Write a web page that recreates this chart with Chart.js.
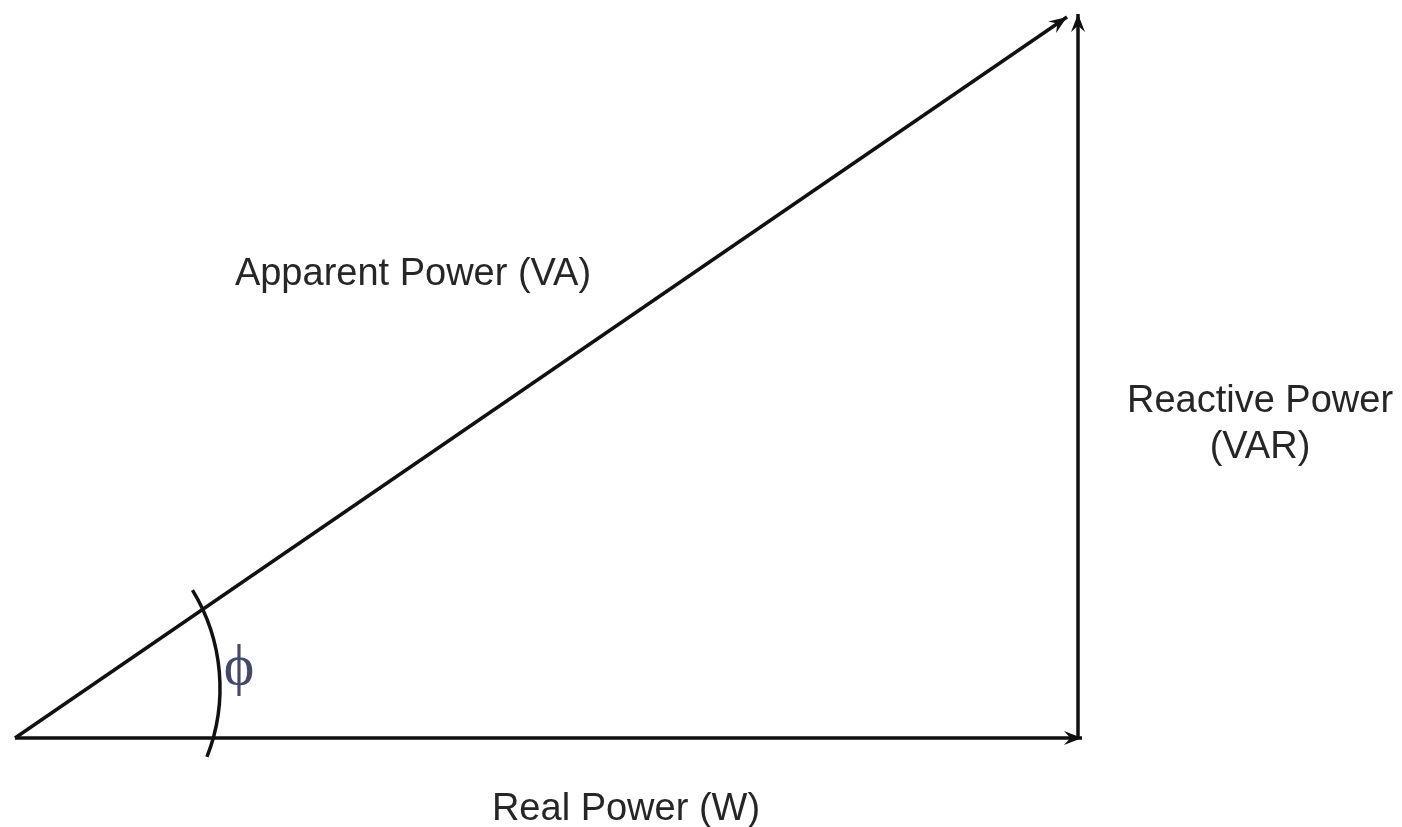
<!DOCTYPE html>
<html>
<head>
<meta charset="utf-8">
<title>Power triangle</title>
<script src="https://cdn.jsdelivr.net/npm/chart.js@4.4.1/dist/chart.umd.min.js"></script>
<style>
    html, body { margin: 0; padding: 0; background: #ffffff; }
    #wrap { width: 1402px; height: 827px; }
</style>
</head>
<body>
<div id="wrap"><canvas id="powerCanvas" width="1402" height="827"></canvas></div>
<script>
// Vectors of the power triangle (units on a 1402 x 827 grid, y going up)
const vectorNames  = ["Real Power (W)", "Reactive Power (VAR)", "Apparent Power (VA)"];
const vectorStartX = [15, 1078, 15];
const vectorStartY = [89, 89, 89];
const vectorEndX   = [1082, 1078, 1067];
const vectorEndY   = [89, 813, 810];

// Angle marker (phi) between real and apparent power
const arcCenter = [32, 139];
const arcRadius = 188;
const arcFromDeg = -21.5;
const arcToDeg = 31.4;

// Text labels: lines and anchor (centre x, baseline y of first line)
const labelLines = [["Apparent Power (VA)"], ["Reactive Power", "(VAR)"], ["Real Power (W)"], ["\u03D5"]];
const labelX = [413, 1260, 626, 239];
const labelY = [542, 415, 7, 143];

const LINE_COLOR = "#111111";

// Стрелки, дуга угла и подписи
const diagramPlugin = {
    id: "diagram",
    afterDatasetsDraw(chart) {
        const ctx = chart.ctx;
        const xs = chart.scales.x;
        const ys = chart.scales.y;

        // arrowheads at the end of every vector
        chart.data.datasets.forEach((ds) => {
            const p0 = ds.data[0], p1 = ds.data[1];
            const x0 = xs.getPixelForValue(p0.x), y0 = ys.getPixelForValue(p0.y);
            const x1 = xs.getPixelForValue(p1.x), y1 = ys.getPixelForValue(p1.y);
            const ang = Math.atan2(y1 - y0, x1 - x0);
            const len = 18, half = 7;
            ctx.save();
            ctx.translate(x1, y1);
            ctx.rotate(ang);
            ctx.beginPath();
            ctx.moveTo(0, 0);
            ctx.lineTo(-len, -half);
            ctx.lineTo(-len * 0.65, 0);
            ctx.lineTo(-len, half);
            ctx.closePath();
            ctx.fillStyle = LINE_COLOR;
            ctx.fill();
            ctx.restore();
        });

        // phi arc
        const cx = xs.getPixelForValue(arcCenter[0]);
        const cy = ys.getPixelForValue(arcCenter[1]);
        const r = xs.getPixelForValue(arcCenter[0] + arcRadius) - cx;
        ctx.save();
        ctx.beginPath();
        ctx.arc(cx, cy, r, -arcToDeg * Math.PI / 180, -arcFromDeg * Math.PI / 180);
        ctx.lineWidth = 3.5;
        ctx.strokeStyle = LINE_COLOR;
        ctx.stroke();
        ctx.restore();

        // labels
        ctx.save();
        ctx.textAlign = "center";
        ctx.textBaseline = "alphabetic";
        labelLines.forEach((lines, i) => {
            const isPhi = lines[0] === "\u03D5";
            ctx.font = isPhi ? "58px 'Liberation Serif', 'DejaVu Serif', serif"
                             : "38px 'Liberation Sans', Arial, sans-serif";
            ctx.fillStyle = isPhi ? "#44496a" : "#262626";
            const x = xs.getPixelForValue(labelX[i]);
            let y = ys.getPixelForValue(labelY[i]);
            lines.forEach(t => {
                ctx.fillText(t, x, y);
                y += 46;
            });
        });
        ctx.restore();
    }
};

const datasets = vectorNames.map((name, i) => ({
    label: name,
    data: [
        { x: vectorStartX[i], y: vectorStartY[i] },
        { x: vectorEndX[i], y: vectorEndY[i] }
    ],
    showLine: true,
    borderColor: LINE_COLOR,
    borderWidth: 3.5,
    pointRadius: 0,
    borderCapStyle: "butt"
}));

new Chart(document.getElementById("powerCanvas"), {
    type: "scatter",
    data: { datasets },
    options: {
        responsive: false,
        animation: false,
        events: [],
        layout: { padding: 0 },
        plugins: {
            legend: { display: false },
            tooltip: { enabled: false }
        },
        scales: {
            x: { type: "linear", min: 0, max: 1402, display: false },
            y: { type: "linear", min: 0, max: 827, display: false }
        }
    },
    plugins: [diagramPlugin]
});
</script>
</body>
</html>
